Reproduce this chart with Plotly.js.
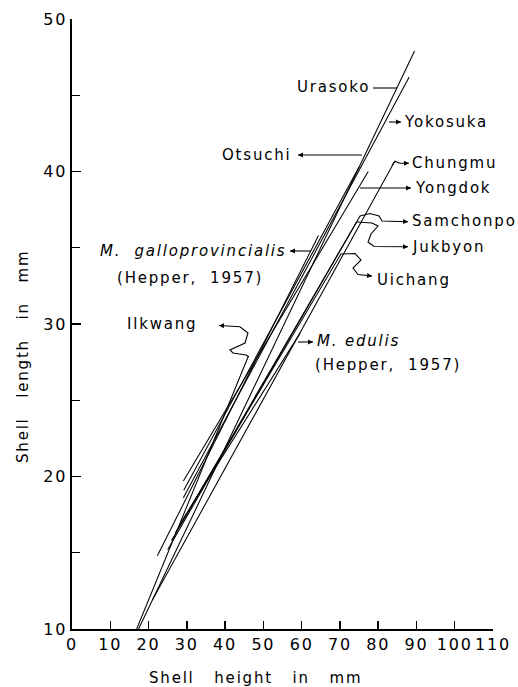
<!DOCTYPE html>
<html><head><meta charset="utf-8">
<script src="https://cdn.plot.ly/plotly-3.0.1.min.js"></script>
<style>
html,body{margin:0;padding:0;background:#fff;}
#chart{width:518px;height:687px;}
svg text{letter-spacing:1.8px;}
</style></head><body><div id="chart"></div>
<script>
// Regression lines: shell length (mm) vs shell height (mm)
const populations = ['Urasoko','Yokosuka','Otsuchi','Chungmu','Yongdok','Samchonpo','Jukbyon','Uichang','M. galloprovincialis','Ilkwang','M. edulis'];
const heightStart = [17.4, 29.1, 29.2, 21.0, 29.1, 25.0, 26.0, 27.0, 22.3, 16.9, 28.5];
const heightEnd   = [89.5, 88.1, 75.0, 84.4, 77.4, 75.3, 74.4, 70.3, 64.4, 46.1, 59.6];
const lengthStart = [10.0, 18.6, 19.1, 11.9, 19.7, 15.2, 15.8, 16.3, 14.8, 10.0, 17.0];
const lengthEnd   = [47.9, 46.2, 40.3, 40.7, 40.0, 37.1, 36.7, 34.6, 35.8, 27.9, 29.4];

const xTickVals = [0,10,20,30,40,50,60,70,80,90,100,110];
const yTickVals = [10,20,30,40,50];
const yMinorVals = [15,25,35,45];

const traces = populations.map((p,i)=>({
  type:'scatter', mode:'lines', name:p,
  x:[heightStart[i], heightEnd[i]],
  y:[lengthStart[i], lengthEnd[i]],
  line:{color:'#000', width:1.05},
  hoverinfo:'skip'
}));

// pixel -> data helper for decorations (plot area: left 72, top 19, 421px x 610px)
const ML=72, MT=19, PW=421, PH=610;
function D(px,py){ return [(px-ML)*110/PW, 10 + (MT+PH-py)*40/PH]; }
function P(px,py){ return [(px-ML)/PW, (MT+PH-py)/PH]; }

const connectors = [
  {pts:[[397,88],[373,88]], head:false},
  {pts:[[389,122],[401,122]], head:true},
  {pts:[[362,155],[298,155]], head:true},
  {pts:[[392,165],[395,161.5],[400,163.3],[409,163.3]], head:true},
  {pts:[[360,188],[411,188]], head:true},
  {pts:[[360,216],[370,213.5],[379,216],[382,221],[408,221.7]], head:true},
  {pts:[[357,222],[372,223],[378,226],[371,234],[368,242],[374,246.5],[408,246.7]], head:true},
  {pts:[[341,254],[355,253.5],[361,260],[353,268],[358,274.5],[372,276]], head:true},
  {pts:[[311,251],[290,251]], head:true},
  {pts:[[249,357],[246,355],[233,353],[230,350],[245,343],[248,333],[240,326.7],[219,325.5]], head:true},
  {pts:[[298,342],[313,342]], head:true}
];

const shapes = connectors.map(c=>{
  const d = c.pts.map((p,k)=>{const q=D(p[0],p[1]); return (k?'L':'M')+q[0].toFixed(3)+','+q[1].toFixed(3);}).join(' ');
  return {type:'path', xref:'x', yref:'y', path:d, line:{color:'#000', width:1.1}};
});

const annotations = [];
connectors.forEach(c=>{
  if(!c.head) return;
  const n=c.pts.length, tip=c.pts[n-1], prev=c.pts[n-2];
  const q=D(tip[0],tip[1]);
  const dx=prev[0]-tip[0], dy=prev[1]-tip[1], L=Math.hypot(dx,dy);
  annotations.push({x:q[0], y:q[1], xref:'x', yref:'y', text:'', showarrow:true,
    ax:dx/L*6, ay:dy/L*6, arrowhead:2, arrowsize:0.9, arrowwidth:1.1, arrowcolor:'#000', standoff:0});
});

const labels = [
  {t:'Urasoko', px:372, py:87, a:'right'},
  {t:'Yokosuka', px:402, py:122, a:'left'},
  {t:'Otsuchi', px:294, py:155, a:'right'},
  {t:'Chungmu', px:410, py:163, a:'left'},
  {t:'Yongdok', px:413, py:188, a:'left'},
  {t:'Samchonpo', px:410, py:221, a:'left'},
  {t:'Jukbyon', px:410, py:247, a:'left'},
  {t:'Uichang', px:375, py:280, a:'left'},
  {t:'<i>M.\u00a0 galloprovincialis</i>', px:288, py:251, a:'right'},
  {t:'(Hepper,\u00a0 1957)', px:115, py:278, a:'left'},
  {t:'Ilkwang', px:125, py:324, a:'left'},
  {t:'<i>M. edulis</i>', px:315, py:341, a:'left'},
  {t:'(Hepper,\u00a0 1957)', px:313, py:365, a:'left'}
];
labels.forEach(l=>{
  const q=D(l.px,l.py);
  annotations.push({x:q[0], y:q[1], xref:'x', yref:'y', text:l.t, showarrow:false,
    xanchor:l.a, yanchor:'middle', font:{family:'DejaVu Sans', size:15, color:'#000'}});
});

// axis titles (paper coordinates so they can sit outside the plot area)
const xt=P(255,678), yt=P(23,357);
annotations.push({x:xt[0], y:xt[1], xref:'paper', yref:'paper', text:'Shell\u00a0\u00a0\u00a0height\u00a0\u00a0\u00a0in\u00a0\u00a0\u00a0mm',
  showarrow:false, xanchor:'center', yanchor:'middle', font:{family:'DejaVu Sans', size:15, color:'#000'}});
annotations.push({x:yt[0], y:yt[1], xref:'paper', yref:'paper', text:'Shell\u00a0\u00a0\u00a0length\u00a0\u00a0\u00a0in\u00a0\u00a0\u00a0mm',
  showarrow:false, textangle:-90, xanchor:'center', yanchor:'middle', font:{family:'DejaVu Sans', size:15, color:'#000'}});

const layout = {
  width:518, height:687,
  margin:{l:ML, r:518-ML-PW, t:MT, b:687-MT-PH},
  paper_bgcolor:'#fff', plot_bgcolor:'#fff',
  showlegend:false,
  font:{family:'DejaVu Sans', color:'#000', size:14},
  xaxis:{range:[0,110], tickvals:xTickVals, ticks:'inside', ticklen:8, tickwidth:1.4, tickcolor:'#000',
    showline:true, linecolor:'#000', linewidth:1.6, showgrid:false, zeroline:false,
    tickfont:{family:'DejaVu Sans', size:16, color:'#000'}, fixedrange:true},
  yaxis:{range:[10,50], tickvals:yTickVals, ticks:'inside', ticklen:9, tickwidth:1.4, tickcolor:'#000',
    minor:{tickvals:yMinorVals, ticks:'inside', ticklen:8, tickwidth:1.4, tickcolor:'#000', showgrid:false},
    showline:true, linecolor:'#000', linewidth:1.6, showgrid:false, zeroline:false,
    tickfont:{family:'DejaVu Sans', size:16, color:'#000'}, fixedrange:true},
  shapes:shapes,
  annotations:annotations
};

Plotly.newPlot('chart', traces, layout, {displayModeBar:false, staticPlot:true});
</script></body></html>
